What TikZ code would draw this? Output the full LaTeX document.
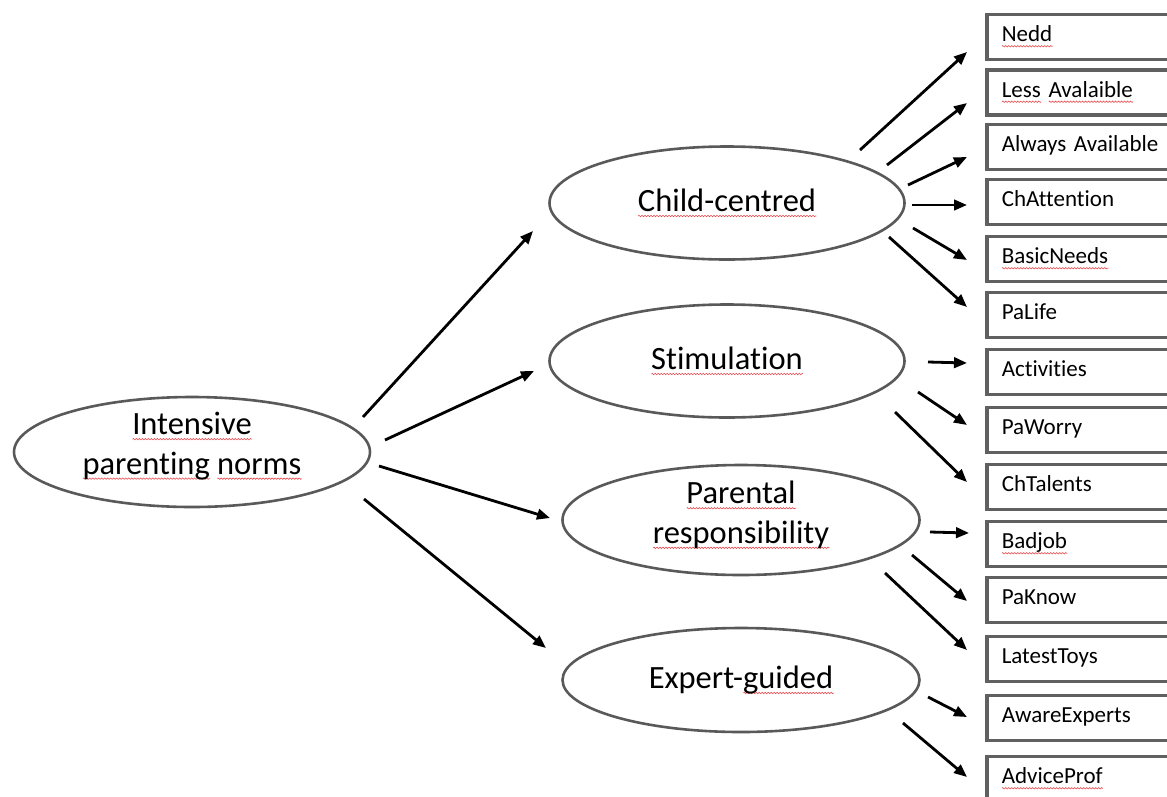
\documentclass[tikz,border=0pt]{standalone}
\usepackage{fontspec}
\setmainfont[Ligatures=NoCommon]{Carlito}
\usetikzlibrary{arrows.meta,shapes.geometric,decorations.pathmorphing}
\definecolor{ovalgray}{HTML}{595959}
\definecolor{boxgray}{HTML}{606060}
\definecolor{wavered}{HTML}{E8484C}
\newlength\sqwd
\newcommand\sq[1]{\settowidth\sqwd{#1}\makebox[0pt][l]{\raisebox{-4.5pt}{\tikz[baseline=0pt]{\draw[color=wavered,line width=0.6pt,decorate,decoration={zigzag,amplitude=0.7pt,segment length=3pt}] (0pt,0pt) -- (\sqwd,0pt);}}}#1}
\begin{document}
\begin{tikzpicture}[x=1pt,y=-1pt,
  oval/.style={ellipse, draw=ovalgray, line width=2.6pt, inner sep=0pt, align=center, font=\fontsize{32.5}{39.5}\selectfont},
  otext/.style={inner sep=0pt, align=center, font=\fontsize{32.5}{39.5}\selectfont},
  lbox/.style={rectangle, draw=boxgray, line width=3.5pt, anchor=west, minimum height=45pt, text width=170pt, inner xsep=15pt, align=left, text height=16pt, text depth=6.5pt, font=\fontsize{23}{27}\selectfont},
  arr/.style={-{Triangle[length=13pt,width=10.5pt]}, line width=2.8pt, black}]
\useasboundingbox (0,0) rectangle (1167,796);
\node[oval, minimum width=356pt, minimum height=110pt] (ipn) at (192,452) {};
\node[otext] (ipnt) at ([shift={(0,-6)}]ipn.center) {\sq{Intensive}\\\sq{parenting} \sq{norms}};
\node[oval, minimum width=355pt, minimum height=113pt] (cc) at (727,203) {\sq{Child-centred}};
\node[oval, minimum width=355pt, minimum height=113pt] (st) at (727,361) {\sq{Stimulation}};
\node[oval, minimum width=357pt, minimum height=110pt] (pr) at (741,520) {};
\node[otext] (prt) at ([shift={(0,-5)}]pr.center) {\sq{Parental}\\\sq{responsibility}};
\node[oval, minimum width=357pt, minimum height=104pt] (eg) at (741,680) {Expert-\sq{guided}};
\node[lbox] (b1) at (985,37) {\sq{Nedd}};
\node[lbox] (b2) at (985,92.5) {\sq{Less} \sq{Avalaible}};
\node[lbox] (b3) at (985,147) {Always Available};
\node[lbox] (b4) at (985,202) {ChAttention};
\node[lbox] (b5) at (985,259) {\sq{BasicNeeds}};
\node[lbox] (b6) at (985,315) {PaLife};
\node[lbox] (b7) at (985,372) {Activities};
\node[lbox] (b8) at (985,430) {PaWorry};
\node[lbox] (b9) at (985,487) {ChTalents};
\node[lbox] (b10) at (985,544) {\sq{Badjob}};
\node[lbox] (b11) at (985,600) {PaKnow};
\node[lbox] (b12) at (985,659) {LatestToys};
\node[lbox] (b13) at (985,718) {AwareExperts};
\node[lbox] (b14) at (985,779) {\sq{AdviceProf}};
\draw[arr] ([shift={(171,-35)}]ipn.center) -- ([shift={(-194,28)}]cc.center);
\draw[arr] ([shift={(193,-12)}]ipn.center) -- ([shift={(-193,10)}]st.center);
\draw[arr] ([shift={(187,14)}]ipn.center) -- ([shift={(-191,-2)}]pr.center);
\draw[arr] ([shift={(172,47)}]ipn.center) -- ([shift={(-195,-32)}]eg.center);
\draw[arr] ([shift={(133,-53)}]cc.center) -- ([shift={(-18,15)}]b1.west);
\draw[arr] ([shift={(160,-38)}]cc.center) -- ([shift={(-18,10.5)}]b2.west);
\draw[arr] ([shift={(181,-18)}]cc.center) -- ([shift={(-18,10)}]b3.west);
\draw[arr] ([shift={(185,2)}]cc.center) -- ([shift={(-18,3)}]b4.west);
\draw[arr] ([shift={(186,25)}]cc.center) -- ([shift={(-18,1)}]b5.west);
\draw[arr] ([shift={(162,34)}]cc.center) -- ([shift={(-18,-8)}]b6.west);
\draw[arr] ([shift={(201,1)}]st.center) -- ([shift={(-18,-9)}]b7.west);
\draw[arr] ([shift={(191,31)}]st.center) -- ([shift={(-18,-5)}]b8.west);
\draw[arr] ([shift={(168,51)}]st.center) -- ([shift={(-18,-5)}]b9.west);
\draw[arr] ([shift={(189,12)}]pr.center) -- ([shift={(-16,-11)}]b10.west);
\draw[arr] ([shift={(171,35)}]pr.center) -- ([shift={(-18,1)}]b11.west);
\draw[arr] ([shift={(144,53)}]pr.center) -- ([shift={(-18,-9)}]b12.west);
\draw[arr] ([shift={(187,17)}]eg.center) -- ([shift={(-18,-1)}]b13.west);
\draw[arr] ([shift={(162,43)}]eg.center) -- ([shift={(-18,-2)}]b14.west);
\end{tikzpicture}
\end{document}
